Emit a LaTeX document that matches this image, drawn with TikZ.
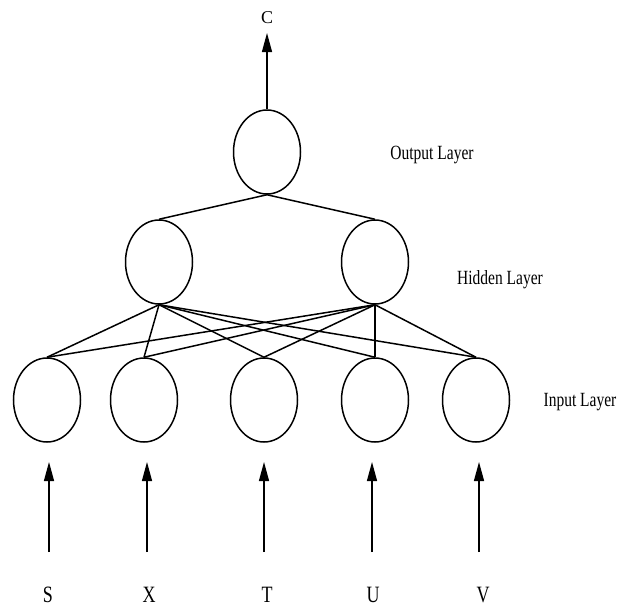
\documentclass[tikz,border=0pt]{standalone}
\usepackage{fontspec}
\setmainfont{Liberation Serif}
\usetikzlibrary{shapes.geometric,arrows.meta}
\tikzset{
  neuron/.style={draw, ellipse, line width=1.5pt, minimum width=67pt, minimum height=84pt, inner sep=0pt},
  link/.style={line width=1.5pt},
  feed/.style={line width=1.3pt, -{Triangle[length=19pt,width=10pt]}},
  layername/.style={font=\fontsize{15.5}{15.5}\selectfont, inner sep=0pt},
  varname/.style={font=\fontsize{18}{18}\selectfont, inner sep=0pt},
}
\newcommand{\tallify}[1]{\scalebox{1}[1.3]{#1}}
\begin{document}
\begin{tikzpicture}[x=1pt,y=-1pt]
  \useasboundingbox (0,0) rectangle (620,608);

  % output layer
  \node[neuron] (out) at (267,152) {};
  \coordinate (outtip) at (267,33);
  \node[font=\fontsize{18}{18}\selectfont, inner sep=0pt] (C) at (267,18) {C};

  % hidden layer
  \node[neuron] (h1) at (159,262) {};
  \node[neuron] (h2) at (375,262) {};

  % input layer
  \node[neuron] (S) at (47,400) {};
  \node[neuron] (X) at (144,400) {};
  \node[neuron] (T) at (264,400) {};
  \node[neuron] (U) at (375,400) {};
  \node[neuron] (V) at (476,400) {};

  % layer names
  \node[layername] (lo) at (432,155) {\tallify{Output Layer}};
  \node[layername] (lh) at (500,280) {\tallify{Hidden Layer}};
  \node[layername] (li) at (580,402) {\tallify{Input Layer}};

  % output to hidden
  \draw[link] (out.south) -- (h1.north);
  \draw[link] (out.south) -- (h2.north);

  % hidden to input, fully connected
  \foreach \h in {h1,h2}
    \foreach \i in {S,X,T,U,V}
      \draw[link] (\h.south) -- (\i.north);

  % output arrow
  \draw[feed] (out.north) -- (outtip);

  % input arrows and variable names
  \foreach \i/\x/\lx in {S/49/48,X/147/149,T/264/267,U/372/373,V/479/483}{
    \coordinate (b\i) at (\x,552);
    \coordinate (t\i) at (\x,462);
    \draw[feed] (b\i) -- (t\i);
    \node[varname] (n\i) at (\lx,595) {\tallify{\i}};
  }
\end{tikzpicture}
\end{document}
